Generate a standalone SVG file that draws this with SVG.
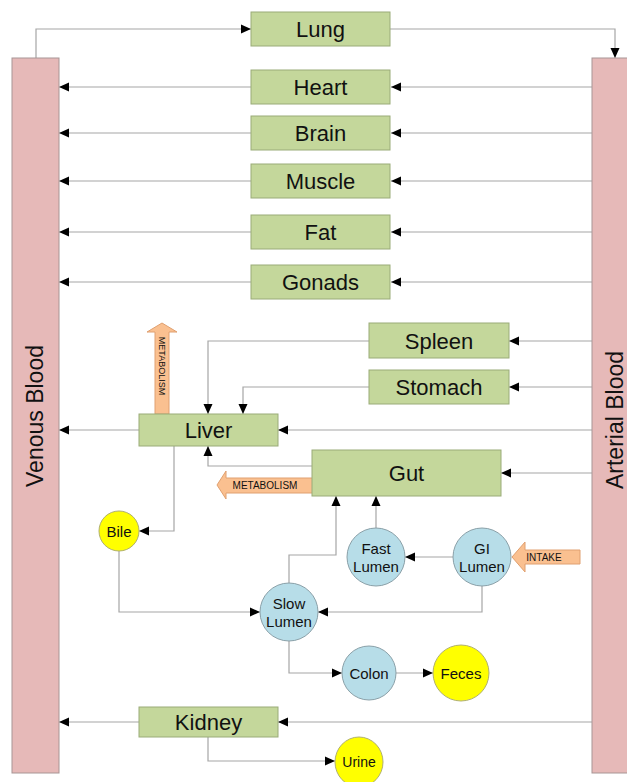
<svg xmlns="http://www.w3.org/2000/svg" width="627" height="782" viewBox="0 0 627 782">
<defs>
<marker id="ah" markerUnits="userSpaceOnUse" markerWidth="10" markerHeight="10" refX="10" refY="5" orient="auto" viewBox="0 0 10 10">
<path d="M0,0.5 L10,5 L0,9.5 z" fill="#000"/>
</marker>
<style>
.bar{fill:#e6b9b8;stroke:#a89595;stroke-width:1}
.box{fill:#c4d79b;stroke:#9aab78;stroke-width:1}
.lum{fill:#b7dde8;stroke:#8aa0a8;stroke-width:1}
.yel{fill:#ffff00;stroke:#b0b070;stroke-width:1}
.org{fill:#fac090;stroke:#e0a070;stroke-width:1}
.c path{fill:none;stroke:#a6a6a6;stroke-width:1.2;marker-end:url(#ah)}
text{font-family:"Liberation Sans",Arial,sans-serif;fill:#111;text-anchor:middle;dominant-baseline:central}
.bt{font-size:22px}
.ct{font-size:15px}
.st{font-size:10px}
.vt{font-size:23px}
</style>
</defs>
<rect width="627" height="782" fill="#fff"/>

<g id="connectors" class="c">
<path d="M36,58 V29 H251"/>
<path d="M390,29 H615 V58"/>
<path d="M592,87 H391"/><path d="M251,87 H59"/>
<path d="M592,133 H391"/><path d="M251,133 H59"/>
<path d="M592,181 H391"/><path d="M251,181 H59"/>
<path d="M592,232 H391"/><path d="M251,232 H59"/>
<path d="M592,282 H391"/><path d="M251,282 H59"/>
<path d="M592,341 H509"/><path d="M369,341 H208 V414"/>
<path d="M592,387 H509"/><path d="M369,387 H243 V414"/>
<path d="M592,430 H278"/><path d="M139,430 H59"/>
<path d="M592,473 H501"/><path d="M312,466 H208 V446"/>
<path d="M174,446 V531 H139"/>
<path d="M119,551 V612 H260"/>
<path d="M289,584 V555 H336 V496"/>
<path d="M376,528 V496"/>
<path d="M453,557 H405"/>
<path d="M482,586 V612 H318"/>
<path d="M289,641 V673 H342"/>
<path d="M396,673 H433"/>
<path d="M592,722 H278"/><path d="M139,722 H59"/>
<path d="M208,737 V761 H335"/>
</g>

<g id="venous"><rect class="bar" x="12" y="58" width="47" height="715"/>
<text class="vt" transform="translate(35,416) rotate(-90)">Venous Blood</text></g>
<g id="arterial"><rect class="bar" x="592" y="58" width="40" height="715"/>
<text class="vt" transform="translate(615,420) rotate(-90)">Arterial Blood</text></g>

<g id="lung"><rect class="box" x="251" y="12" width="139" height="34"/><text class="bt" x="320.5" y="29">Lung</text></g>
<g id="heart"><rect class="box" x="251" y="70" width="139" height="34"/><text class="bt" x="320.5" y="87">Heart</text></g>
<g id="brain"><rect class="box" x="251" y="116" width="139" height="34"/><text class="bt" x="320.5" y="133">Brain</text></g>
<g id="muscle"><rect class="box" x="251" y="164" width="139" height="34"/><text class="bt" x="320.5" y="181">Muscle</text></g>
<g id="fat"><rect class="box" x="251" y="215" width="139" height="34"/><text class="bt" x="320.5" y="232">Fat</text></g>
<g id="gonads"><rect class="box" x="251" y="265" width="139" height="34"/><text class="bt" x="320.5" y="282">Gonads</text></g>
<g id="spleen"><rect class="box" x="369" y="323" width="140" height="35"/><text class="bt" x="439" y="341">Spleen</text></g>
<g id="stomach"><rect class="box" x="369" y="370" width="140" height="34"/><text class="bt" x="439" y="387">Stomach</text></g>

<g id="metabolism-liver"><polygon class="org" points="155,414 155,332 147,332 162,323 177,332 169,332 169,414"/>
<text class="st" style="font-size:9px" transform="translate(162,366) rotate(90)">METABOLISM</text></g>
<g id="liver"><rect class="box" x="139" y="414" width="139" height="32"/><text class="bt" x="208.5" y="430">Liver</text></g>

<g id="metabolism-gut"><polygon class="org" points="314,478 226,478 226,471 217,485 226,499 226,493 314,493"/>
<text class="st" x="265" y="485.5">METABOLISM</text></g>
<g id="gut"><rect class="box" x="312" y="450" width="189" height="46"/><text class="bt" x="406.5" y="473">Gut</text></g>

<g id="bile"><circle class="yel" cx="119" cy="531" r="20"/><text class="ct" x="119" y="531">Bile</text></g>
<g id="fast-lumen"><circle class="lum" cx="376" cy="557" r="29"/><text class="ct" x="376" y="548">Fast</text><text class="ct" x="376" y="566">Lumen</text></g>
<g id="gi-lumen"><circle class="lum" cx="482" cy="557" r="29"/><text class="ct" x="482" y="548">GI</text><text class="ct" x="482" y="566">Lumen</text></g>
<g id="intake"><polygon class="org" points="580,550 525,550 525,542 512,557 525,572 525,564 580,564"/>
<text class="st" x="544" y="557.5">INTAKE</text></g>
<g id="slow-lumen"><circle class="lum" cx="289" cy="612" r="29"/><text class="ct" x="289" y="603">Slow</text><text class="ct" x="289" y="621">Lumen</text></g>
<g id="colon"><circle class="lum" cx="369" cy="673" r="27"/><text class="ct" x="369" y="673">Colon</text></g>
<g id="feces"><circle class="yel" cx="461" cy="673" r="28"/><text class="ct" x="461" y="673">Feces</text></g>

<g id="kidney"><rect class="box" x="139" y="707" width="139" height="30"/><text class="bt" x="208.5" y="722">Kidney</text></g>
<g id="urine"><ellipse class="yel" cx="359" cy="762" rx="24" ry="25"/><text class="ct" x="359" y="762" style="font-size:14px">Urine</text></g>
</svg>
